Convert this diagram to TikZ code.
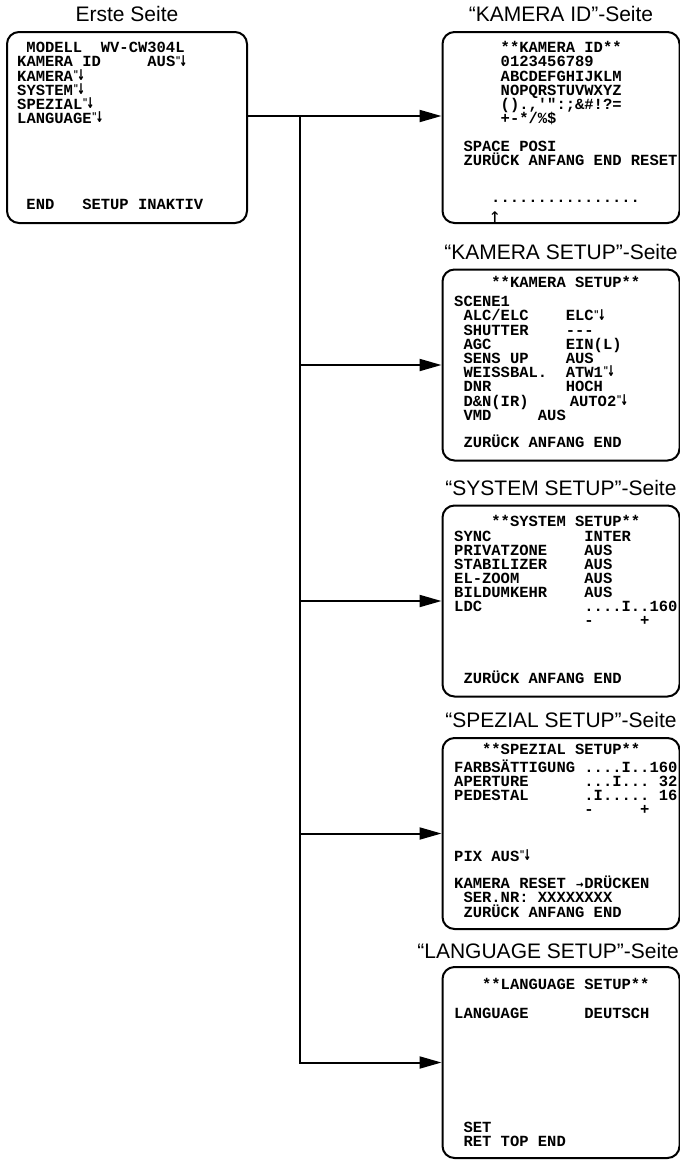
\documentclass[tikz,border=0pt]{standalone}
\usepackage{fontspec}
\usepackage{graphicx}
\setsansfont{Liberation Sans}
\setmonofont{Liberation Mono}
\newfontfamily\osdarrows{DejaVu Sans Mono}
\usetikzlibrary{arrows.meta,positioning}

% screen font of the camera menus
\newcommand\osdfont{\ttfamily\bfseries\fontsize{15.5}{14.2}\selectfont\lineskiplimit=-20pt\lineskip=0pt\relax}
\newcommand\osdstrut{\rule{0pt}{12pt}}
\newcommand\osdgap[1]{\hspace*{#1\dimexpr0.6em\relax}}
\newcommand\retm{\makebox[0.6em][l]{\raisebox{0.25em}{\scalebox{0.6}{"}}\kern-0.08em\raisebox{0.05em}{\scalebox{0.8}[1.3]{\osdarrows ↓}}}}

\tikzset{
  osdbox/.style={draw, line width=2pt, rounded corners=12pt,
    minimum width=237pt, minimum height=191pt, inner sep=0pt},
  pagetitle/.style={font=\sffamily\fontsize{21}{24}\selectfont, inner sep=0pt},
  osd/.style={font=\osdfont, align=left, anchor=north west, inner sep=0pt},
  link/.style={line width=2pt},
  feed/.style={link, -{Triangle[length=22pt,width=12pt]}}
}

\begin{document}
\begin{tikzpicture}[x=1pt, y=1pt]
  \useasboundingbox (0,0) rectangle (680,-1160);

  % Erste Seite
  \node[osdbox, minimum width=240pt] (erste) at (127,-127.5) {};
  \node[pagetitle, above=9pt of erste] (erstetitle) {Erste Seite};
  \node[osd] (erstemenu) at (17,-40.5) {\osdstrut\osdgap{1}MODELL~~WV-CW304L\\
    KAMERA~ID~~~~~AUS\retm\\KAMERA\retm\\SYSTEM\retm\\SPEZIAL\retm\\LANGUAGE\retm};
  \node[osd] (erstefoot) at (17,-197.5) {\osdstrut\osdgap{1}END~~~SETUP~INAKTIV};

  % KAMERA ID
  \node[osdbox] (kid) at (561,-127.5) {};
  \node[pagetitle, above=9pt of kid] (kidtitle) {“KAMERA ID”-Seite};
  \node[osd] (kidchars) at (454,-40.5) {\osdstrut\osdgap{5}**KAMERA~ID**\\
    \osdgap{5}0123456789\\\osdgap{5}ABCDEFGHIJKLM\\\osdgap{5}NOPQRSTUVWXYZ\\
    \osdgap{5}().,'":;\&\#!?=\\\osdgap{5}+-*/\%\$};
  \node[osd] (kidfoot) at (454,-139.5) {\osdstrut\osdgap{1}SPACE~POSI\\
    \osdgap{1}ZURÜCK~ANFANG~END~RESET};
  \node[osd] (kiddots) at (491,-190) {\osdstrut................};
  \node[font=\fontsize{20}{20}\selectfont\osdarrows, inner sep=0pt] (kidcursor) at (495,-217) {↑};

  % KAMERA SETUP
  \node[osdbox] (kam) at (561,-365) {};
  \node[pagetitle, above=9pt of kam] (kamtitle) {“KAMERA SETUP”-Seite};
  \node[osd] (kamhead) at (454,-275.5) {\osdstrut\osdgap{4}**KAMERA~SETUP**};
  \node[osd] (kammenu) at (454,-294.5) {\osdstrut SCENE1\\
    \osdgap{1}ALC/ELC~~~~ELC\retm\\
    \osdgap{1}SHUTTER~~~~---\\
    \osdgap{1}AGC~~~~~~~~EIN(L)\\
    \osdgap{1}SENS~UP~~~~AUS\\
    \osdgap{1}WEISSBAL.~~ATW1\retm\\
    \osdgap{1}DNR~~~~~~~~HOCH\\
    \osdgap{1}D\&N(IR)~~~~\kern4pt AUTO2\retm\\
    \osdgap{1}VMD~~~~~AUS};
  \node[osd] (kamfoot) at (454,-434.5) {\osdstrut\osdgap{1}ZURÜCK~ANFANG~END};

  % SYSTEM SETUP
  \node[osdbox] (sys) at (561,-601) {};
  \node[pagetitle, above=9pt of sys] (systitle) {“SYSTEM SETUP”-Seite};
  \node[osd] (syshead) at (454,-514.5) {\osdstrut\osdgap{4}**SYSTEM~SETUP**};
  \node[osd, font={\osdfont\setlength{\baselineskip}{14pt}}] (sysmenu) at (454,-529.5) {\osdstrut SYNC~~~~~~~~~~INTER\\
    PRIVATZONE~~~~AUS\\STABILIZER~~~~AUS\\EL-ZOOM~~~~~~~AUS\\BILDUMKEHR~~~~AUS\\
    LDC~~~~~~~~~~~....I..160\\\osdgap{14}-~~~~~+};
  \node[osd] (sysfoot) at (454,-670.5) {\osdstrut\osdgap{1}ZURÜCK~ANFANG~END};

  % SPEZIAL SETUP
  \node[osdbox] (spz) at (561,-833.5) {};
  \node[pagetitle, above=9pt of spz] (spztitle) {“SPEZIAL SETUP”-Seite};
  \node[osd] (spzhead) at (454,-742.5) {\osdstrut\osdgap{3}**SPEZIAL~SETUP**};
  \node[osd] (spzmenu) at (454,-759.5) {\osdstrut FARBSÄTTIGUNG~....I..160\\
    APERTURE~~~~~~...I...~32\\PEDESTAL~~~~~~.I.....~16\\\osdgap{14}-~~~~~+};
  \node[osd] (spzpix) at (454,-849.5) {\osdstrut PIX~AUS\retm};
  \node[osd, font={\osdfont\setlength{\baselineskip}{14.5pt}}] (spzfoot) at (454,-875.5) {\osdstrut KAMERA~RESET~\makebox[0.6em]{\scalebox{0.8}{\osdarrows →}}DRÜCKEN\\
    \osdgap{1}SER.NR:~XXXXXXXX\\\osdgap{1}ZURÜCK~ANFANG~END};

  % LANGUAGE SETUP
  \node[osdbox] (lang) at (561,-1062.5) {};
  \node[pagetitle, anchor=south east] (langtitle) at (679,-958.5) {“LANGUAGE SETUP”-Seite};
  \node[osd] (langhead) at (454,-977.5) {\osdstrut\osdgap{3}**LANGUAGE~SETUP**};
  \node[osd] (langmenu) at (454,-1006.5) {\osdstrut LANGUAGE~~~~~~DEUTSCH};
  \node[osd] (langfoot) at (454,-1120.5) {\osdstrut\osdgap{1}SET\\\osdgap{1}RET~TOP~END};

  % connectors
  \coordinate (fork) at (300,-116);
  \draw[feed] (erste.east |- fork) -- (kid.west |- fork);
  \draw[feed] (fork) |- (lang.west);
  \draw[feed] (fork |- kam.west) -- (kam.west);
  \draw[feed] (fork |- sys.west) -- (sys.west);
  \draw[feed] (fork |- spz.west) -- (spz.west);
\end{tikzpicture}
\end{document}
